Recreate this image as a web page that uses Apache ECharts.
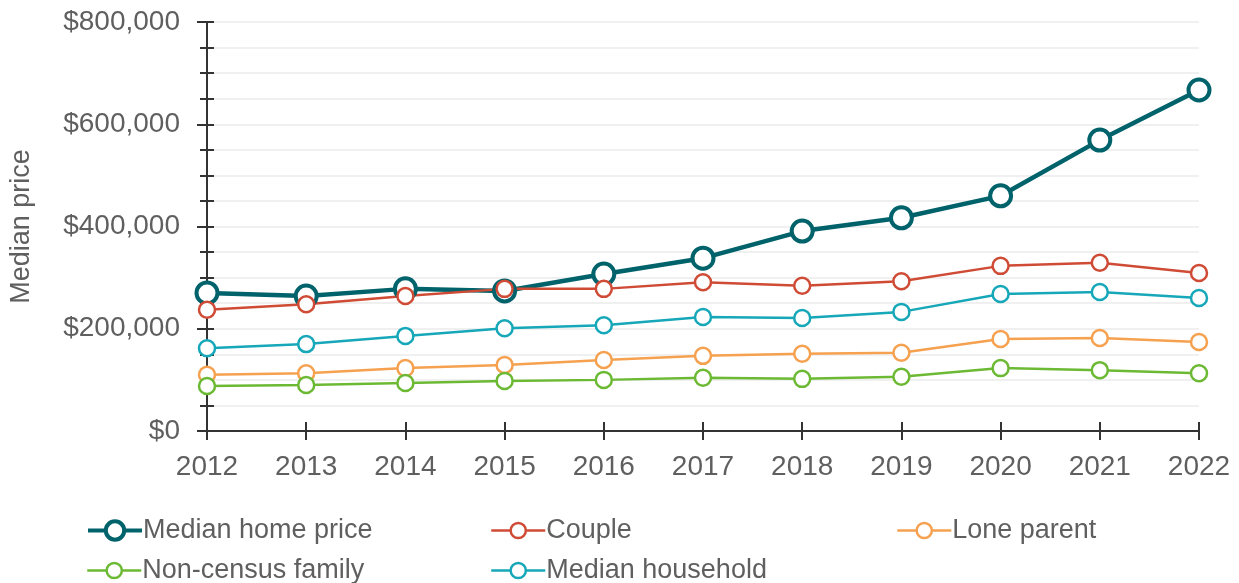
<!DOCTYPE html>
<html>
<head>
<meta charset="utf-8">
<script src="https://cdn.jsdelivr.net/npm/echarts@6/dist/echarts.min.js"></script>
<style>
html,body{margin:0;padding:0;background:#fff;}
#chart{width:1239px;height:583px;}
</style>
</head>
<body>
<div id="chart"></div>
<script>
const years = ['2012','2013','2014','2015','2016','2017','2018','2019','2020','2021','2022'];
const medianHomePrice = [270000,264000,278000,274000,307000,338000,391000,417000,460000,569000,667000];
const couple = [237000,248000,264000,278000,278000,291000,284000,293000,323000,329000,309000];
const loneParent = [110000,113000,123000,129000,139000,147000,151000,153000,180000,182000,174000];
const nonCensusFamily = [88000,90000,94000,98000,100000,104000,102000,106000,123000,119000,113000];
const medianHousehold = [162000,170000,186000,201000,207000,223000,221000,233000,268000,272000,260000];

const FONT = 'Liberation Sans';
const TXT = '#5f5f5f';
const AX = '#333333';

const chart = echarts.init(document.getElementById('chart'), null, {renderer:'canvas'});

function mkSeries(name, data, color, thick){
  return {
    name: name, type: 'line', data: data, yAxisIndex: 0, xAxisIndex: 0,
    symbol: 'circle',
    symbolSize: thick ? 21 : 16,
    showAllSymbol: true,
    lineStyle: {color: color, width: thick ? 4.5 : 2.5},
    itemStyle: {color: '#ffffff', borderColor: color, borderWidth: thick ? 4 : 2.5},
    emphasis: {disabled: true},
    animation: false
  };
}

function legendAt(name, left, centerY, thick){
  const h = thick ? 23 : 19;
  return {
    data: [name], left: left, top: centerY - 11, orient: 'horizontal', padding: 0,
    itemWidth: 54, itemHeight: h, itemGap: 0,
    lineStyle: {width: thick ? 4 : 2.5},
    itemStyle: {borderWidth: thick ? 4 : 2.5},
    textStyle: {fontFamily: FONT, fontSize: 27, color: TXT, padding: [0,0,0,-4]},
    selectedMode: false
  };
}

const option = {
  backgroundColor: '#ffffff',
  animation: false,
  grid: {left: 205, right: 40, top: 22, bottom: 152, containLabel: false},
  legend: [
    legendAt('Median home price', 86, 528, true),
    legendAt('Couple', 490, 528, false),
    legendAt('Lone parent', 896, 528, false),
    legendAt('Non-census family', 86, 568, false),
    legendAt('Median household', 490, 568, false)
  ],
  xAxis: [
    {
      type: 'category', data: years, boundaryGap: false, position: 'bottom',
      axisLine: {show: true, lineStyle: {color: AX, width: 2}},
      axisTick: {show: true, inside: false, length: 9, lineStyle: {color: AX, width: 2}},
      axisLabel: {fontFamily: FONT, fontSize: 28, color: TXT, margin: 22},
      splitLine: {show: false}
    },
    {
      type: 'category', data: years, boundaryGap: false, position: 'bottom', offset: 0,
      axisLine: {show: false},
      axisTick: {show: true, inside: true, length: 9, lineStyle: {color: AX, width: 2}},
      axisLabel: {show: false},
      splitLine: {show: false}
    }
  ],
  yAxis: [
    {
      type: 'value', min: 0, max: 800000, interval: 200000, position: 'left',
      name: 'Median price', nameLocation: 'middle', nameGap: 172, nameRotate: 90,
      nameTextStyle: {fontFamily: FONT, fontSize: 27, color: TXT},
      axisLine: {show: true, lineStyle: {color: AX, width: 2}},
      axisTick: {show: true, inside: false, length: 10, lineStyle: {color: AX, width: 2}},
      axisLabel: {fontFamily: FONT, fontSize: 28, color: TXT, margin: 27,
        formatter: function(v){ return '$' + v.toLocaleString('en-US'); }},
      splitLine: {show: false}
    },
    {
      type: 'value', min: 0, max: 800000, interval: 50000, position: 'left', offset: 0,
      axisLine: {show: false},
      axisTick: {show: true, inside: false, length: 7, lineStyle: {color: AX, width: 2}},
      axisLabel: {show: false},
      splitLine: {show: true, lineStyle: {color: '#f0f0f0', width: 2}}
    },
    {
      type: 'value', min: 0, max: 800000, interval: 50000, position: 'left', offset: 0,
      axisLine: {show: false},
      axisTick: {show: true, inside: true, length: 7, lineStyle: {color: AX, width: 2}},
      axisLabel: {show: false},
      splitLine: {show: false}
    }
  ],
  series: [
    mkSeries('Median home price', medianHomePrice, '#00626a', true),
    mkSeries('Couple', couple, '#cf4b35', false),
    mkSeries('Lone parent', loneParent, '#f5a14f', false),
    mkSeries('Non-census family', nonCensusFamily, '#6cb934', false),
    mkSeries('Median household', medianHousehold, '#16a7b8', false)
  ]
};
chart.setOption(option);
</script>
</body>
</html>
